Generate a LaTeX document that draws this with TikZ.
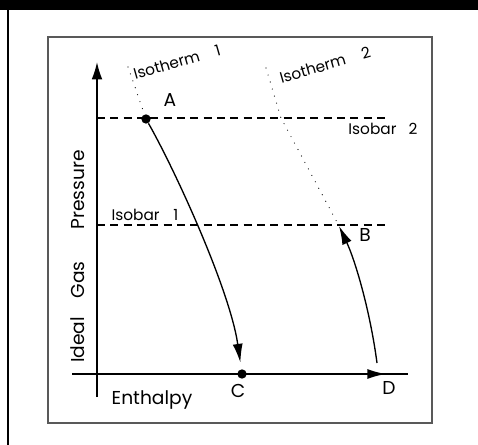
\documentclass[tikz,border=0pt]{standalone}
\usepackage{fontspec}
\setmainfont{Poppins}
\usetikzlibrary{arrows.meta, positioning, calc}
\tikzset{
  panel/.style={draw=black!65, line width=1.4pt},
  axis/.style={-{Latex[length=13pt, width=8pt]}, line width=1.1pt},
  isobar/.style={line width=0.8pt, dash pattern=on 6pt off 4pt},
  isotherm/.style={line width=0.9pt, line cap=round, dash pattern=on 0pt off 5.5pt},
  process/.style={-{Latex[length=14pt, width=7.5pt]}, line width=1pt},
  state/.style={circle, fill, inner sep=0pt, minimum size=7pt},
  letter/.style={inner sep=0pt, font=\fontsize{14}{14}\selectfont},
  caption/.style={inner sep=0pt, font=\fontsize{11.5}{11.5}\selectfont}
}

\begin{document}
\begin{tikzpicture}[x=0.75pt, y=-0.75pt]
  \useasboundingbox (0,0) rectangle (478,445);
  \fill (0,0) rectangle (478,10);
  \fill (7,10) rectangle (9,445);
  \draw[panel] (48,37) rectangle (432,423);

  \coordinate (ytop) at (97,62);
  \coordinate (ybot) at (97,397);
  \coordinate (xleft) at (72,374);
  \coordinate (xright) at (408,374);
  \draw[axis] (ybot) -- (ytop);
  \draw[line width=1.1pt] (xleft) -- (xright);

  \coordinate (hi-start) at (97,118);
  \coordinate (hi-end) at (387,118);
  \coordinate (lo-start) at (97,225);
  \coordinate (lo-end) at (387,225);
  \draw[isobar] (hi-start) -- (hi-end);
  \draw[isobar] (lo-start) -- (lo-end);

  \node[state] (A) at (146,119) {};
  \node[state] (C) at (242,374) {};
  \coordinate (B) at (339,226);
  \coordinate (D) at (386,374);
  \coordinate (D-top) at (377,363);

  \coordinate (t1-top) at (128,67);
  \coordinate (t2-top) at (266,68);
  \coordinate (t2-bend) at (281,118);
  \draw[isotherm] (t1-top) -- (A);
  \draw[isotherm] (t2-top) -- (t2-bend) -- (B);

  \draw[process, shorten >=5pt] (A) .. controls (175,170) and (230,290) .. (C);
  \draw[process, line width=1.4pt] (C) -- (D);
  \draw[process] (D-top) .. controls (370,310) and (355,260) .. (B);

  \node[letter] (A-label) at (170,100) {A};
  \node[letter] (B-label) at (365,235) {B};
  \node[letter] (C-label) at (238,391) {C};
  \node[letter] (D-label) at (389,388) {D};

  \node[caption, rotate=16] (t1-label) at (177,62) {Isotherm\hspace{1.1em}1};
  \node[caption, rotate=16] (t2-label) at (325,65) {Isotherm\hspace{1.1em}2};
  \node[caption] (hi-label) at (383,129) {Isobar\hspace{0.8em}2};
  \node[caption] (lo-label) at (145,215) {Isobar\hspace{0.9em}1};

  \node[letter, rotate=90] (p-label) at (78,190) {Pressure};
  \node[letter, rotate=90] (g-label) at (78,280) {Gas};
  \node[letter, rotate=90] (i-label) at (78,340) {Ideal};
  \node[letter] (h-label) at (152,400) {Enthalpy};
\end{tikzpicture}
\end{document}
